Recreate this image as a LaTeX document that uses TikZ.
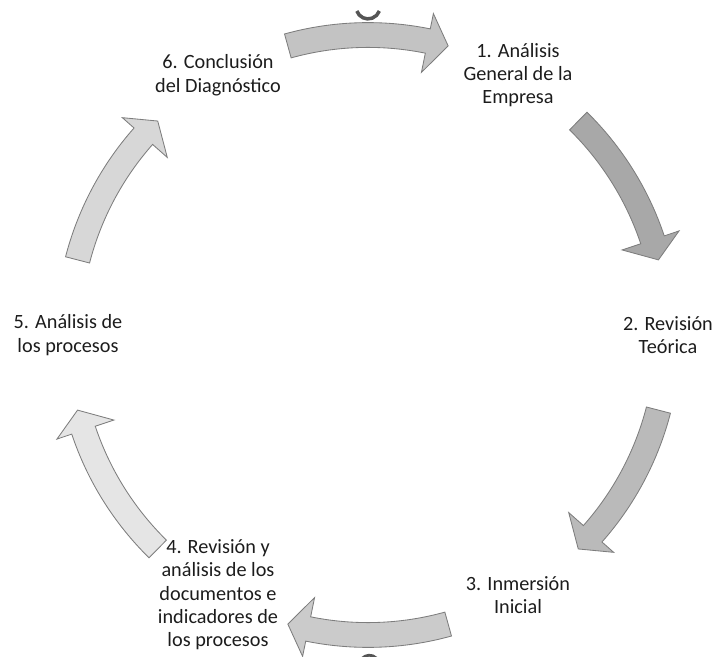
\documentclass[tikz,border=0pt]{standalone}
\usepackage{fontspec}
\setmainfont{Carlito}
\usepackage{tikz}
\usetikzlibrary{positioning}
\definecolor{textgray}{RGB}{28,28,28}
\definecolor{edgegray}{RGB}{125,125,125}
\definecolor{markgray}{RGB}{85,85,85}
\definecolor{arrowtop}{RGB}{195,195,195}
\definecolor{arrowtr}{RGB}{168,168,168}
\definecolor{arrowbr}{RGB}{186,186,186}
\definecolor{arrowbot}{RGB}{203,203,203}
\definecolor{arrowbl}{RGB}{229,229,229}
\definecolor{arrowtl}{RGB}{215,215,215}

\newcommand{\cyclearrow}[2]{%
  \draw[blockarrow, fill=#2] ({#1+15.5}:7.81) arc[start angle={#1+15.5}, end angle={#1-11.5}, radius=7.81]
    -- ({#1-11.5}:8.2) -- ({#1-15.5}:7.5) -- ({#1-11.5}:6.7) -- ({#1-11.5}:7.19)
    arc[start angle={#1-11.5}, end angle={#1+15.5}, radius=7.19] -- cycle;}

\begin{document}
\begin{tikzpicture}[
    stage/.style={align=center, text=textgray, font=\fontsize{14.4}{16.6}\selectfont},
    blockarrow/.style={draw=edgegray, line width=0.6pt, line join=miter}
]
\useasboundingbox (-9.2,-8.025) rectangle (8.675,8.375);

\cyclearrow{90}{arrowtop}
\cyclearrow{30}{arrowtr}
\cyclearrow{-30}{arrowbr}
\cyclearrow{-90}{arrowbot}
\cyclearrow{-150}{arrowbl}
\cyclearrow{150}{arrowtl}

\node[stage] (s1) at (60:7.5) {1. Análisis\\General de la\\Empresa};
\node[stage] (s2) at (0:7.5) {2. Revisión\\Teórica};
\node[stage] (s3) at (-60:7.5) {3. Inmersión\\Inicial};
\node[stage] (s4) at (-120:7.5) {4. Revisión y\\análisis de los\\documentos e\\indicadores de\\los procesos};
\node[stage] (s5) at (180:7.5) {5. Análisis de\\los procesos};
\node[stage] (s6) at (120:7.5) {6. Conclusión\\del Diagnóstico};

\draw[markgray, line width=2.5pt] (-0.28,8.1) arc[start angle=200, end angle=340, radius=0.3];
\draw[markgray, line width=2pt] (-0.2,-8.17) arc[start angle=160, end angle=20, radius=0.25];

\end{tikzpicture}
\end{document}
